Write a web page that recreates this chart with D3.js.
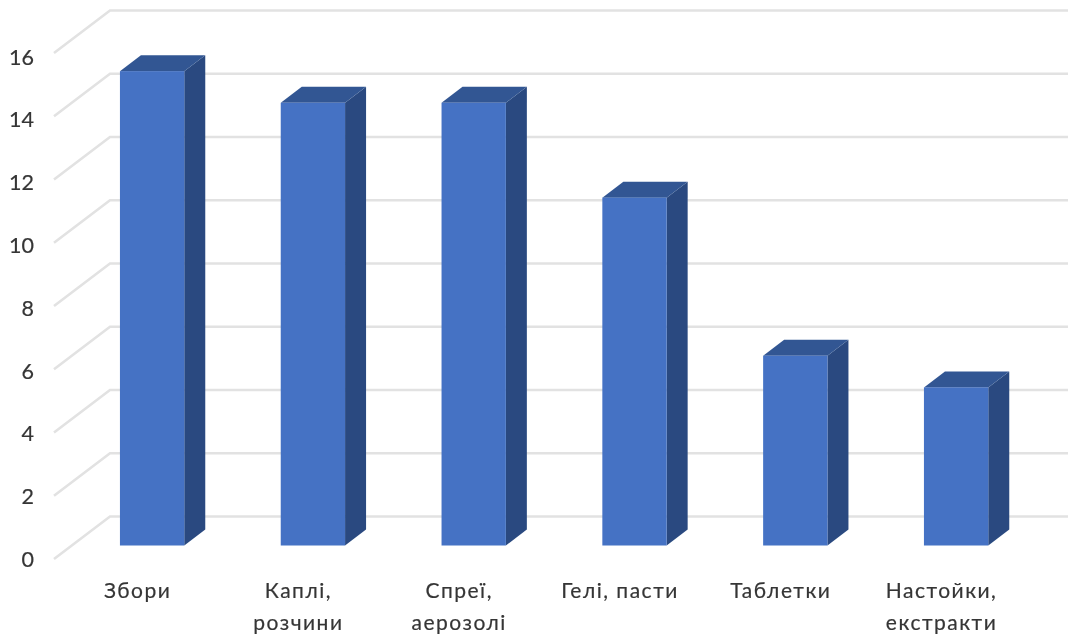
<!DOCTYPE html>
<html><head><meta charset="utf-8">
<script src="https://cdn.jsdelivr.net/npm/d3@7"></script>
<style>html,body{margin:0;padding:0;background:#fff}svg{display:block}text{font-family:Lato,"Open Sans",sans-serif;fill:#363636}</style>
</head><body><svg id="c" width="1068" height="637"></svg>
<script>
const categories=[["Збори"],["Каплі,","розчини"],["Спреї,","аерозолі"],["Гелі, пасти"],["Таблетки"],["Настойки,","екстракти"]];
const values=[15,14,14,11,6,5];
const yTicks=[0,2,4,6,8,10,12,14,16];

const svg=d3.select("#c");
const defs=svg.append("defs");
defs.append("filter").attr("id","soft").append("feGaussianBlur").attr("stdDeviation",0.45);
const y=d3.scaleLinear().domain([0,16]).range([545.5,39.5]);
const yLabel=d3.scaleLinear().domain([0,16]).range([559,56.5]);
const x=d3.scaleBand().domain(d3.range(categories.length)).range([71.7,1036.5]).paddingInner(0.6).paddingOuter(0.3);
const depthX=21,depthY=16;
const gridBackOffset=-29,gridFrontX=54,gridBackX=110;
const root=svg.append("g").attr("filter","url(#soft)");

const grid=root.append("g").attr("fill","none").attr("stroke","#e2e2e2").attr("stroke-width",2.6);
grid.selectAll("path").data(yTicks).join("path")
  .attr("d",d=>{const p=d3.path();const yb=y(d)+gridBackOffset;
    p.moveTo(gridFrontX,yb+42.5);p.lineTo(gridBackX,yb);p.lineTo(1068,yb);return p.toString();});

const bars=root.append("g").selectAll("g").data(values).join("g");
bars.append("path").attr("fill","#2a4a80").attr("d",(d,i)=>{
  const r=x(i)+x.bandwidth();
  return `M${r},${y(d)}L${r+depthX},${y(d)-depthY}L${r+depthX},${y(0)-depthY}L${r},${y(0)}Z`;});
bars.append("path").attr("fill","#335793").attr("d",(d,i)=>{
  const l=x(i),r=l+x.bandwidth();
  return `M${l},${y(d)}L${l+depthX},${y(d)-depthY}L${r+depthX},${y(d)-depthY}L${r},${y(d)}Z`;});
bars.append("rect").attr("fill","#4472c4")
  .attr("x",(d,i)=>x(i)).attr("y",d=>y(d)).attr("width",x.bandwidth()).attr("height",d=>y(0)-y(d));

root.append("g").selectAll("text").data(yTicks).join("text")
  .attr("x",34).attr("y",d=>yLabel(d)+8).attr("text-anchor","end")
  .attr("font-size",21.5).attr("stroke","#363636").attr("stroke-width",0.2).text(d=>d);

const labels=root.append("g").selectAll("text").data(categories).join("text")
  .attr("text-anchor","middle").attr("font-size",21).attr("letter-spacing",1.5)
  .attr("stroke","#363636").attr("stroke-width",0.2);
labels.selectAll("tspan").data((d,i)=>d.map((t,k)=>({t,k,i}))).join("tspan")
  .attr("x",d=>x(d.i)+x.bandwidth()/2-14.5).attr("y",d=>598+d.k*32).text(d=>d.t);
</script></body></html>
